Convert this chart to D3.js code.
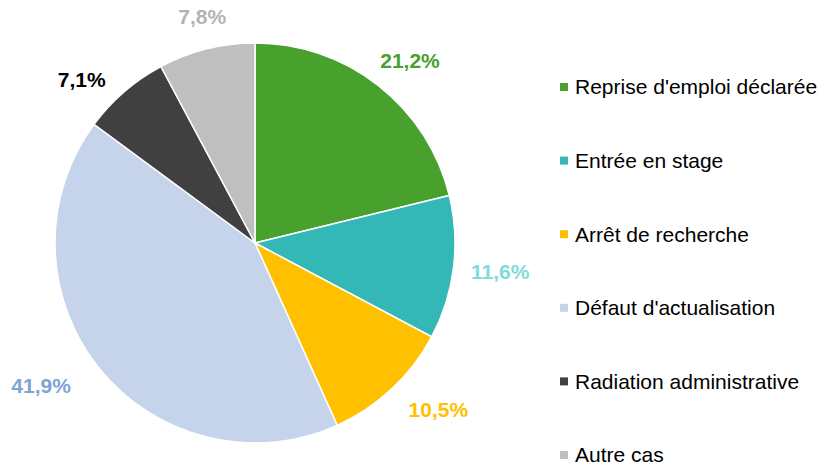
<!DOCTYPE html>
<html>
<head>
<meta charset="utf-8">
<script src="https://cdn.jsdelivr.net/npm/d3@7"></script>
<style>
  body { margin: 0; background: #fff; }
  svg { display: block; font-family: "Liberation Sans", Arial, sans-serif; }
</style>
</head>
<body>
<svg id="chart" width="821" height="469"></svg>
<script>
// chart data
var categories = ["Reprise d'emploi déclarée", "Entrée en stage", "Arrêt de recherche",
                  "Défaut d'actualisation", "Radiation administrative", "Autre cas"];
var values = [21.2, 11.6, 10.5, 41.9, 7.1, 7.8];
var valueLabels = ["21,2%", "11,6%", "10,5%", "41,9%", "7,1%", "7,8%"];
var sliceColors = ["#48a02d", "#33b7b7", "#ffc000", "#c5d4ea", "#404040", "#bfbfbf"];
var labelColors = ["#48a02d", "#7fdcdc", "#ffc000", "#7fa3d6", "#000000", "#b3b3b3"];

var svg = d3.select('#chart');
var cx = 255, cy = 243, radius = 200;

// small shifts of the outside labels away from their centroid (box clears the pie)
var labelNudge = [[13, -1], [17, 0], [26, -1], [-35, -2], [-23, 11], [3, -3]];

var data = categories.map(function(c, i){
    return {name: c, value: values[i], label: valueLabels[i], color: sliceColors[i],
            lcolor: labelColors[i], nudge: labelNudge[i]};
});

var pie = d3.pie()
    .sort(null)
    .value(function(d){ return d.value; });

var arc = d3.arc().innerRadius(0).outerRadius(radius);
var labelArc = d3.arc().innerRadius(230).outerRadius(230);

var pieG = svg.append('g')
    .attr('transform', 'translate(' + cx + ',' + cy + ')');

var arcs = pie(data);

pieG.selectAll('path')
    .data(arcs)
    .enter()
    .append('path')
    .attr('d', arc)
    .attr('fill', function(d){ return d.data.color; })
    .attr('stroke', '#fff')
    .attr('stroke-width', 1.5);

pieG.selectAll('text.pct')
    .data(arcs)
    .enter()
    .append('text')
    .attr('class', 'pct')
    .attr('transform', function(d){
        var c = labelArc.centroid(d);
        return 'translate(' + (c[0] + d.data.nudge[0]) + ',' + (c[1] + d.data.nudge[1]) + ')';
    })
    .attr('text-anchor', 'middle')
    .attr('dy', '0.35em')
    .style('font-size', '21px')
    .style('font-weight', 'bold')
    .style('fill', function(d){ return d.data.lcolor; })
    .text(function(d){ return d.data.label; });

// legend
var legendY = d3.scalePoint()
    .domain(categories)
    .range([87, 455]);

var legend = svg.append('g');

var items = legend.selectAll('g')
    .data(data)
    .enter()
    .append('g')
    .attr('transform', function(d){ return 'translate(560,' + legendY(d.name) + ')'; });

items.append('rect')
    .attr('x', 0)
    .attr('y', -4)
    .attr('width', 8)
    .attr('height', 8)
    .attr('fill', function(d){ return d.color; });

items.append('text')
    .attr('x', 15)
    .attr('dy', '0.35em')
    .style('font-size', '21px')
    .style('fill', '#000')
    .text(function(d){ return d.name; });
</script>
</body>
</html>
